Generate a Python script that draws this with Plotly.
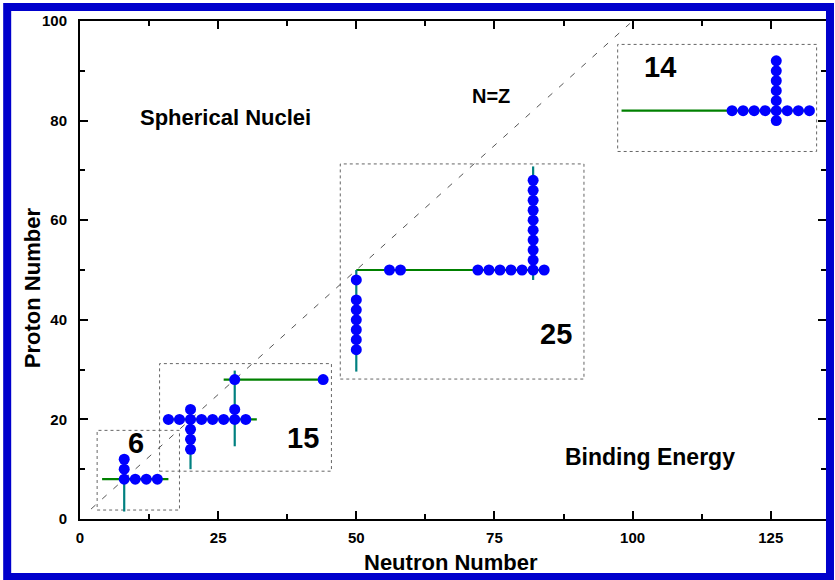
import plotly.graph_objects as go

# ---- data ----
# dots (N, Z) per group
g6_N = [8, 10, 12, 14, 8, 8]
g6_Z = [8, 8, 8, 8, 10, 12]
g15_N = [16, 18, 20, 22, 24, 26, 28, 30, 20, 20, 20, 20, 28, 28, 44]
g15_Z = [20, 20, 20, 20, 20, 20, 20, 20, 22, 18, 16, 14, 22, 28, 28]
g25_N = [50, 50, 50, 50, 50, 50, 50,
         56, 58, 72, 74, 76, 78, 80, 82, 84,
         82, 82, 82, 82, 82, 82, 82, 82, 82]
g25_Z = [48, 44, 42, 40, 38, 36, 34,
         50, 50, 50, 50, 50, 50, 50, 50, 50,
         52, 54, 56, 58, 60, 62, 64, 66, 68]
g14_N = [118, 120, 122, 124, 126, 128, 130, 132, 126, 126, 126, 126, 126, 126]
g14_Z = [82, 82, 82, 82, 82, 82, 82, 82, 92, 90, 88, 86, 84, 80]

# horizontal (neutron shell) lines: (N start, N end, Z)
h_N0 = [4, 15, 26, 50, 98]
h_N1 = [16, 32, 44, 84, 132]
h_Z = [8, 20, 28, 50, 82]
# vertical (proton shell) lines: (N, Z start, Z end)
v_N = [8, 20, 28, 50, 82]
v_Z0 = [1.5, 10, 14.6, 29.6, 48]
v_Z1 = [12, 22, 29.8, 50, 70.8]

# dotted boxes (N0, N1, Z0, Z1) and their counts
box_N0 = [3.1, 14.4, 47.1, 97.3]
box_N1 = [18.0, 45.5, 91.2, 133.3]
box_Z0 = [1.8, 9.6, 28.1, 73.8]
box_Z1 = [17.8, 31.2, 71.3, 95.3]
box_label = ["6", "15", "25", "14"]
box_label_N = [10.2, 40.3, 86.2, 105.0]
box_label_Z = [15.2, 16.2, 37.2, 90.8]

# N=Z line
diag_N = [2, 99.5]
diag_Z = [2, 99.5]

x_ticks = [0, 25, 50, 75, 100, 125]
y_ticks = [0, 20, 40, 60, 80, 100]

FONT = "Liberation Sans, Arial, sans-serif"

fig = go.Figure()

fig.add_trace(go.Scatter(x=diag_N, y=diag_Z, mode="lines",
                         line=dict(color="#555555", width=1, dash="6px,9px"),
                         hoverinfo="skip"))

for a, b, z in zip(h_N0, h_N1, h_Z):
    fig.add_trace(go.Scatter(x=[a, b], y=[z, z], mode="lines",
                             line=dict(color="#008000", width=2.2)))
for n, a, b in zip(v_N, v_Z0, v_Z1):
    fig.add_trace(go.Scatter(x=[n, n], y=[a, b], mode="lines",
                             line=dict(color="#008080", width=2.2)))

for N, Z in [(g6_N, g6_Z), (g15_N, g15_Z), (g25_N, g25_Z), (g14_N, g14_Z)]:
    fig.add_trace(go.Scatter(x=N, y=Z, mode="markers",
                             marker=dict(color="#0000FF", size=11, line=dict(width=0))))

for x0, x1, y0, y1 in zip(box_N0, box_N1, box_Z0, box_Z1):
    fig.add_shape(type="rect", x0=x0, x1=x1, y0=y0, y1=y1, xref="x", yref="y",
                  line=dict(color="#666666", width=1, dash="dot"), layer="below")

for t, x, y in zip(box_label, box_label_N, box_label_Z):
    fig.add_annotation(x=x, y=y, text=t, showarrow=False,
                       font=dict(family=FONT, size=29, color="black", weight="bold"))

fig.add_annotation(x=74.4, y=85, text="N=Z", showarrow=False,
                   font=dict(family=FONT, size=20, color="black", weight="bold"))
fig.add_annotation(x=26.4, y=80.6, text="Spherical Nuclei", showarrow=False,
                   font=dict(family=FONT, size=22, color="black", weight="bold"))
fig.add_annotation(x=103.2, y=12.4, text="Binding Energy", showarrow=False,
                   font=dict(family=FONT, size=23, color="black", weight="bold"))

# blue frame around the whole picture
W, H = 835, 580
L, R, T, B = 80, 7, 21, 61
pw, ph = W - L - R, H - T - B
def px(x):
    return (x - L) / pw
def py(y):
    return (H - B - y) / ph
fig.add_shape(type="rect", xref="paper", yref="paper",
              x0=px(7), x1=px(832), y0=py(577), y1=py(7),
              line=dict(color="#0000CC", width=8), fillcolor="rgba(0,0,0,0)")

# axis titles
TITLE_FONT = dict(family=FONT, size=22, color="black", weight="bold")
fig.add_annotation(xref="paper", yref="paper", x=px(452), y=py(562),
                   xanchor="center", yanchor="middle",
                   text="Neutron Number", showarrow=False, font=TITLE_FONT)
fig.add_annotation(xref="paper", yref="paper", x=px(32), y=py(288),
                   xanchor="center", yanchor="middle",
                   text="Proton Number", textangle=-90, showarrow=False, font=TITLE_FONT)

axis_common = dict(showgrid=False, zeroline=False, showline=True, linecolor="black",
                   linewidth=2, mirror="allticks", ticks="inside", ticklen=8,
                   tickwidth=1.5, tickcolor="black",
                   tickfont=dict(family=FONT, size=15, color="black", weight="bold"))

fig.update_xaxes(range=[0, 135], tickvals=x_ticks, ticklabelstandoff=4,
                 minor=dict(dtick=12.5, ticks="inside", ticklen=5, tickwidth=1.5,
                            tickcolor="black", tick0=0),
                 **axis_common)
fig.update_yaxes(range=[0, 100], tickvals=y_ticks, ticklabelstandoff=8,
                 minor=dict(dtick=10, ticks="inside", ticklen=5, tickwidth=1.5,
                            tickcolor="black", tick0=0),
                 **axis_common)

fig.update_layout(width=W, height=H, margin=dict(l=L, r=R, t=T, b=B, pad=0),
                  paper_bgcolor="white", plot_bgcolor="white", showlegend=False)

fig.write_html("out.html")
